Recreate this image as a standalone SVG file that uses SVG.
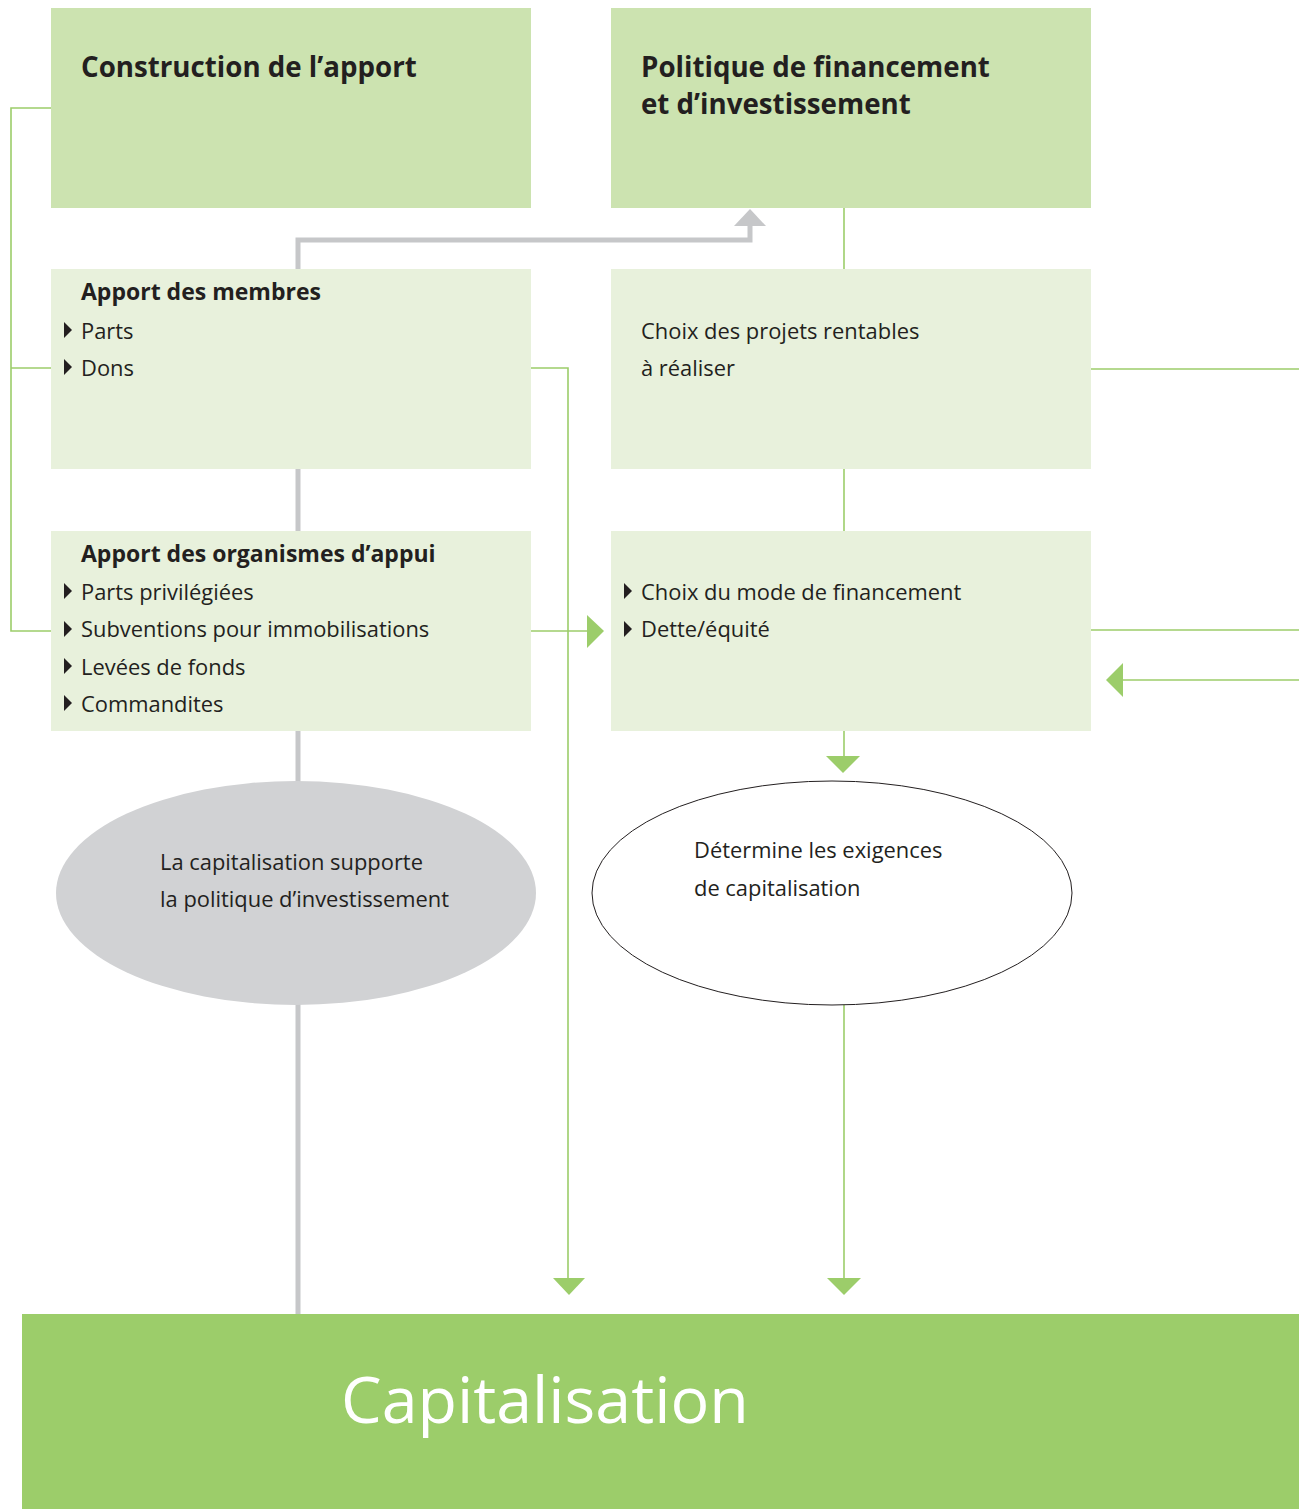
<svg xmlns="http://www.w3.org/2000/svg" width="1299" height="1509" viewBox="0 0 1299 1509">
<style>
.t{font-family:"Open Sans","Noto Sans","Liberation Sans",sans-serif;fill:#231f20}
.h1{font-size:27.7px;font-weight:bold}
.h2{font-size:23px;font-weight:bold}
.b{font-size:21.9px}
.g{stroke:#9ccd6a;stroke-width:1.6;fill:none}
.gr{stroke:#c6c7c9;stroke-width:5;fill:none}
.ga{fill:#9ccd6a}
.bul{fill:#231f20}
</style>
<rect width="1299" height="1509" fill="#ffffff"/>
<g id="connectors">
<polyline class="g" points="51,108 11,108 11,631 51,631"/>
<line class="g" x1="11" y1="368" x2="51" y2="368"/>
<polyline class="g" points="531,368 568,368 568,1280"/>
<polygon class="ga" points="553,1278 585,1278 569,1295"/>
<line class="g" x1="531" y1="631" x2="590" y2="631"/>
<polygon class="ga" points="587,615 604,631 587,648"/>
<line class="g" x1="844" y1="208" x2="844" y2="269"/>
<line class="g" x1="844" y1="469" x2="844" y2="531"/>
<line class="g" x1="844" y1="731" x2="844" y2="758"/>
<polygon class="ga" points="826,756 860,756 843,773"/>
<line class="g" x1="844" y1="1005" x2="844" y2="1280"/>
<polygon class="ga" points="827,1278 861,1278 844,1295"/>
<line class="g" x1="1091" y1="369" x2="1299" y2="369"/>
<line class="g" x1="1091" y1="630" x2="1299" y2="630"/>
<line class="g" x1="1120" y1="680" x2="1299" y2="680"/>
<polygon class="ga" points="1106,680 1123,663 1123,697"/>
<polyline class="gr" points="298,269 298,240 750,240 750,222"/>
<polygon fill="#c6c7c9" points="734,226 750,209 766,226"/>
<line class="gr" x1="298" y1="469" x2="298" y2="531"/>
<line class="gr" x1="298" y1="731" x2="298" y2="785"/>
<line class="gr" x1="298" y1="1000" x2="298" y2="1314"/>
</g>
<g id="construction">
<rect x="51" y="8" width="480" height="200" fill="#cce3b0"/>
<text class="t h1" x="81" y="77">Construction de l’apport</text>
</g>
<g id="politique">
<rect x="611" y="8" width="480" height="200" fill="#cce3b0"/>
<text class="t h1" x="641" y="77">Politique de financement</text>
<text class="t h1" x="641" y="114">et d’investissement</text>
</g>
<g id="apport-membres">
<rect x="51" y="269" width="480" height="200" fill="#e8f1dc"/>
<text class="t h2" x="81" y="300">Apport des membres</text>
<polygon class="bul" points="64,322 72,330 64,338"/>
<text class="t b" x="81" y="339">Parts</text>
<polygon class="bul" points="64,359 72,367 64,375"/>
<text class="t b" x="81" y="376">Dons</text>
</g>
<g id="choix-projets">
<rect x="611" y="269" width="480" height="200" fill="#e8f1dc"/>
<text class="t b" x="641" y="339">Choix des projets rentables</text>
<text class="t b" x="641" y="376">à réaliser</text>
</g>
<g id="apport-organismes">
<rect x="51" y="531" width="480" height="200" fill="#e8f1dc"/>
<text class="t h2" x="81" y="562">Apport des organismes d’appui</text>
<polygon class="bul" points="64,583 72,591 64,599"/>
<text class="t b" x="81" y="600">Parts privilégiées</text>
<polygon class="bul" points="64,621 72,629 64,637"/>
<text class="t b" x="81" y="637">Subventions pour immobilisations</text>
<polygon class="bul" points="64,658 72,666 64,674"/>
<text class="t b" x="81" y="675">Levées de fonds</text>
<polygon class="bul" points="64,695 72,703 64,711"/>
<text class="t b" x="81" y="712">Commandites</text>
</g>
<g id="choix-mode">
<rect x="611" y="531" width="480" height="200" fill="#e8f1dc"/>
<polygon class="bul" points="624,583 632,591 624,599"/>
<text class="t b" x="641" y="600">Choix du mode de financement</text>
<polygon class="bul" points="624,621 632,629 624,637"/>
<text class="t b" x="641" y="637">Dette/équité</text>
</g>
<g id="capitalisation-supporte">
<ellipse cx="296" cy="893" rx="240" ry="112" fill="#d1d2d4"/>
<text class="t b" x="160" y="870">La capitalisation supporte</text>
<text class="t b" x="160" y="907">la politique d’investissement</text>
</g>
<g id="determine">
<ellipse cx="832" cy="893" rx="240" ry="112" fill="#ffffff" stroke="#231f20" stroke-width="1"/>
<text class="t b" x="694" y="858">Détermine les exigences</text>
<text class="t b" x="694" y="896">de capitalisation</text>
</g>
<g id="capitalisation">
<rect x="22" y="1314" width="1277" height="195" fill="#9ccd6a"/>
<text class="t" x="341" y="1423" font-size="64.5" style="fill:#ffffff">Capitalisation</text>
</g>
</svg>
